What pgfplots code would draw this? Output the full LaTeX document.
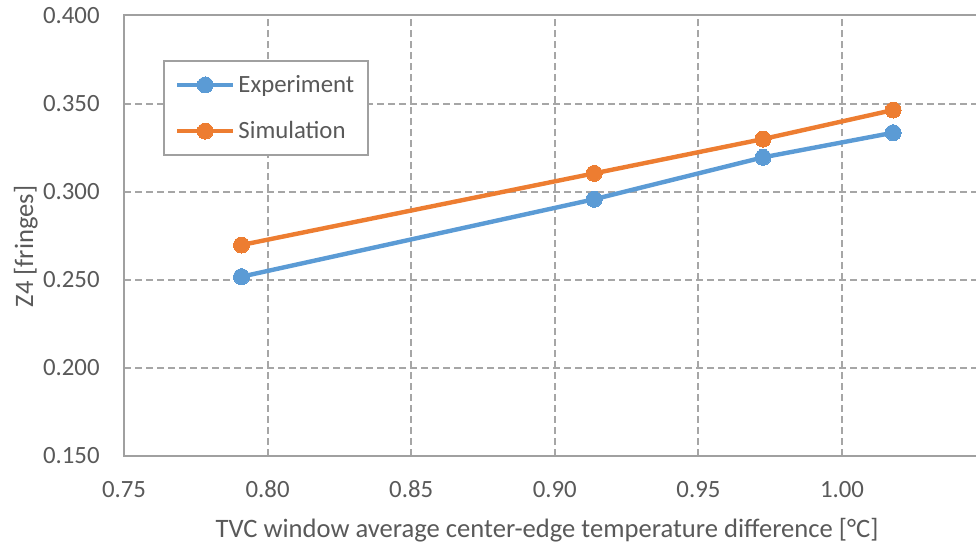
\documentclass[border=0pt]{standalone}
\usepackage{pgfplots}
\pgfplotsset{compat=1.18}
\usepackage{fontspec}
\setmainfont{Carlito}
\usetikzlibrary{calc}
\definecolor{expblue}{HTML}{5B9BD5}
\definecolor{simorange}{HTML}{ED7D31}
\definecolor{txtgray}{HTML}{595959}
\definecolor{gridgray}{HTML}{A6A6A6}
\definecolor{axgray}{HTML}{A0A0A0}
\begin{document}
\begin{tikzpicture}
\begin{axis}[
  name=ax,
  scale only axis,
  width=430.8pt, height=220pt,
  xmin=0.75, xmax=1.05, ymin=0.15, ymax=0.4,
  xtick={0.75,0.80,0.85,0.90,0.95,1.00},
  ytick={0.15,0.20,0.25,0.30,0.35,0.40},
  /pgf/number format/assume math mode=true,
  xticklabel style={/pgf/number format/fixed, /pgf/number format/fixed zerofill, /pgf/number format/precision=2,
    anchor=center, inner sep=0pt, yshift=-17pt},
  yticklabel style={/pgf/number format/fixed, /pgf/number format/fixed zerofill, /pgf/number format/precision=3,
    anchor=east, inner sep=0pt, xshift=-12pt},
  major tick length=0pt,
  tick style={draw=none},
  grid=major,
  major grid style={draw=gridgray, line width=1pt, dash pattern=on 3.5pt off 2pt},
  axis line style={draw=axgray, line width=1pt},
  font=\fontsize{12}{14.4}\selectfont,
  every tick label/.append style={text=txtgray, font=\fontsize{12.4}{14.4}\selectfont},
  xlabel={TVC window average center-edge temperature difference [°C]},
  ylabel={Z4 [fringes]},
  every axis x label/.style={at={(axis description cs:0.4909,-0.169)}, anchor=center, text=txtgray, font=\fontsize{13.3}{16}\selectfont},
  every axis y label/.style={at={(axis description cs:-0.114,0.475)}, anchor=center, rotate=90, text=txtgray, font=\fontsize{13.3}{16}\selectfont},
  legend style={at={(axis description cs:0.0453,0.899)}, anchor=north west,
    draw=axgray, line width=1pt, fill=white, text=txtgray,
    font=\fontsize{12.4}{14.4}\selectfont,
    inner xsep=5.5pt, inner ysep=5.5pt, row sep=10pt,
    nodes={inner sep=1.5pt}},
  legend cell align=left,
  legend image code/.code={\draw[mark repeat=2,mark phase=2,#1] plot coordinates {(0pt,0pt)(14pt,0pt)(28pt,0pt)};},
]
\addplot[color=expblue, line width=2.2pt, mark=*, mark size=4pt, mark options={solid, fill=expblue, draw=expblue, line width=0pt}]
  coordinates {(0.7909,0.2516) (0.9137,0.2956) (0.9725,0.3194) (1.0178,0.3334)};
\addlegendentry{Experiment}
\addplot[color=simorange, line width=2.2pt, mark=*, mark size=4pt, mark options={solid, fill=simorange, draw=simorange, line width=0pt}]
  coordinates {(0.7909,0.2696) (0.9137,0.3103) (0.9725,0.3298) (1.0178,0.3463)};
\addlegendentry{Simulation}
\end{axis}
\pgfresetboundingbox
\path ($(ax.south west)+(-62pt,-44.75pt)$) rectangle ($(ax.north east)+(-4.8pt,7.75pt)$);
\end{tikzpicture}
\end{document}
